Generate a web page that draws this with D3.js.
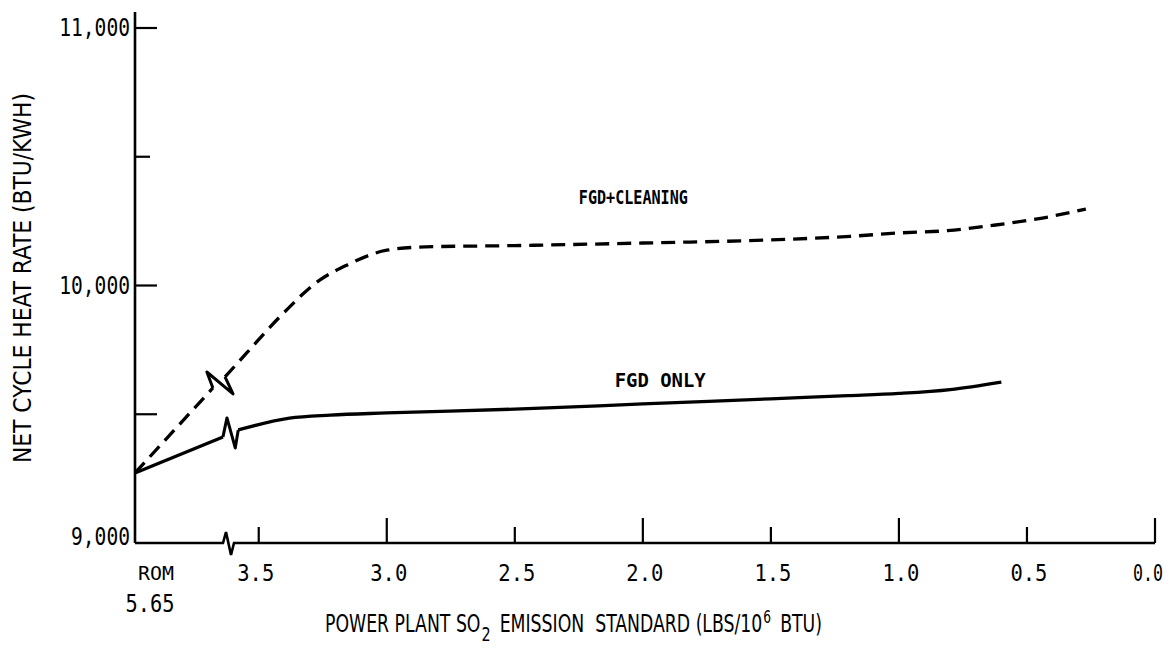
<!DOCTYPE html>
<html>
<head>
<meta charset="utf-8">
<script src="https://cdn.jsdelivr.net/npm/d3@7"></script>
<style>
  html, body { margin: 0; padding: 0; background: #fff; }
  svg { display: block; }
</style>
</head>
<body>
<svg id="chart" width="1172" height="664"></svg>
<script>
// ---- data -------------------------------------------------------------
// x: SO2 emission standard (lbs / 10^6 Btu); ROM coal sits at 5.65
const romValue = 5.65;
const axisBreakValue = 3.62;
const xTickValues = [3.5, 3.0, 2.5, 2.0, 1.5, 1.0, 0.5, 0.0];
const xTickLabels = ["3.5", "3.0", "2.5", "2.0", "1.5", "1.0", "0.5", "0.0"];
const yTickValues = [9000, 9500, 10000, 10500, 11000];
const yTickLabels = ["9,000", "", "10,000", "", "11,000"];

// FGD only: segment before the scale break, then after it
const fgdOnlyBefore = [[5.65, 9272], [3.73, 9412]];
const fgdOnlyAfter = [
  [3.58, 9439], [3.38, 9485], [3.22, 9497], [3.0, 9505], [2.5, 9520],
  [2.0, 9540], [1.5, 9560], [1.2, 9572], [1.0, 9581], [0.8, 9596],
  [0.6, 9625]
];

// FGD + coal cleaning
const fgdCleanBefore = [[5.65, 9272], [3.95, 9602]];
const fgdCleanAfter = [
  [3.685, 9645], [3.547, 9738], [3.418, 9878], [3.262, 10021], [3.156, 10079],
  [3.0, 10137], [2.85, 10150], [2.5, 10155], [2.0, 10165], [1.5, 10177],
  [1.19, 10191], [1.0, 10204], [0.81, 10213], [0.63, 10234], [0.44, 10262],
  [0.27, 10297]
];

const seriesNames = ["FGD+CLEANING", "FGD ONLY"];

// x-axis title pieces: text, size, baseline offset
const xTitleParts = [
  ["POWER PLANT SO", 24, 0],
  ["2", 20, 9],
  ["EMISSION  STANDARD (LBS/10", 24, 0],
  ["6", 17, -9],
  ["BTU)", 24, 0]
];

// ---- layout -----------------------------------------------------------
const svg = d3.select("#chart");
const ink = "#000";
const monoFont = "'DejaVu Sans Mono', 'Liberation Mono', monospace";
const condFont = "'DejaVu Sans Condensed', 'Liberation Sans Narrow', sans-serif";

// broken x scale: compressed between ROM and the break, linear after it
const x = d3.scaleLinear()
  .domain([romValue, axisBreakValue, 0])
  .range([135, 228, 1155]);
const y = d3.scaleLinear().domain([9000, 11000]).range([543, 28]);

const g = svg.append("g");

// ---- axes -------------------------------------------------------------
// y axis line
g.append("line")
  .attr("x1", x(romValue)).attr("x2", x(romValue))
  .attr("y1", y(11000) - 16).attr("y2", y(9000))
  .attr("stroke", ink).attr("stroke-width", 2.6);

// y ticks point into the plot
yTickValues.forEach((v, i) => {
  if (v !== 9000) {
    const len = v === 10500 ? 15 : 22;
    g.append("line")
      .attr("x1", x(romValue)).attr("x2", x(romValue) + len)
      .attr("y1", y(v)).attr("y2", y(v))
      .attr("stroke", ink).attr("stroke-width", 2.2);
  }
  const lab = yTickLabels[i];
  if (lab) {
    g.append("text")
      .attr("x", x(romValue) - 5)
      .attr("y", y(v) + (v === 9000 ? 2 : 8))
      .attr("text-anchor", "end")
      .attr("font-family", monoFont)
      .attr("font-size", 24)
      .attr("textLength", lab.length * 11.8)
      .attr("lengthAdjust", "spacingAndGlyphs")
      .attr("fill", ink)
      .text(lab);
  }
});

// x axis with a break glyph just left of 3.5
const xb = x(axisBreakValue);
const axisY = y(9000);
const axisPath = d3.path();
axisPath.moveTo(x(romValue), axisY);
axisPath.lineTo(xb - 5, axisY);
axisPath.lineTo(xb - 2, axisY - 11);
axisPath.lineTo(xb + 3, axisY + 12);
axisPath.lineTo(xb + 6, axisY);
axisPath.lineTo(x(0), axisY);
g.append("path").attr("d", axisPath.toString())
  .attr("fill", "none").attr("stroke", ink)
  .attr("stroke-width", 2.6).attr("stroke-linejoin", "miter");

// x ticks point up; whole numbers are longer
xTickValues.forEach((v, i) => {
  const len = Number.isInteger(v) ? 25 : 16;
  g.append("line")
    .attr("x1", x(v)).attr("x2", x(v))
    .attr("y1", axisY).attr("y2", axisY - len)
    .attr("stroke", ink).attr("stroke-width", 2.2);
  const lab = xTickLabels[i];
  const last = i === xTickValues.length - 1;
  g.append("text")
    .attr("x", x(v) + (i === 0 ? -3 : last ? -7 : 2))
    .attr("y", axisY + 38)
    .attr("text-anchor", "middle")
    .attr("font-family", monoFont)
    .attr("font-size", 23)
    .attr("textLength", last ? 30 : 37)
    .attr("lengthAdjust", "spacingAndGlyphs")
    .attr("fill", ink)
    .text(lab);
});

// ROM label under the origin
g.append("text")
  .attr("x", x(romValue) + 21).attr("y", axisY + 37)
  .attr("text-anchor", "middle")
  .attr("font-family", monoFont).attr("font-size", 20)
  .attr("textLength", 36).attr("lengthAdjust", "spacingAndGlyphs")
  .attr("fill", ink).text("ROM");
g.append("text")
  .attr("x", x(romValue) + 15).attr("y", axisY + 69)
  .attr("text-anchor", "middle")
  .attr("font-family", monoFont).attr("font-size", 24)
  .attr("textLength", 49).attr("lengthAdjust", "spacingAndGlyphs")
  .attr("fill", ink).text(romValue.toFixed(2));

// ---- axis titles ------------------------------------------------------
g.append("text")
  .attr("transform", "translate(31,278) rotate(-90)")
  .attr("text-anchor", "middle")
  .attr("font-family", condFont).attr("font-size", 25)
  .attr("textLength", 370).attr("lengthAdjust", "spacingAndGlyphs")
  .attr("fill", ink)
  .text("NET CYCLE HEAT RATE (BTU/KWH)");

// x title laid out piece by piece so sub/superscripts sit beside the words
(function () {
  const left = 325, right = 822, base = 632;
  const gapAfter = [1, 9, 1, 9, 0];
  const nodes = xTitleParts.map(([t, size, dy]) =>
    g.append("text")
      .attr("y", base + dy)
      .attr("font-family", condFont).attr("font-size", size)
      .attr("fill", ink)
      .style("white-space", "pre")
      .text(t));
  const widths = nodes.map(n => n.node().getComputedTextLength());
  const gaps = d3.sum(gapAfter);
  const k = (right - left - gaps) / d3.sum(widths);
  let cx = left;
  nodes.forEach((n, i) => {
    const w = widths[i] * k;
    n.attr("x", cx).attr("textLength", w).attr("lengthAdjust", "spacingAndGlyphs");
    cx += w + gapAfter[i];
  });
})();

// ---- curves -----------------------------------------------------------
const line = d3.line()
  .x(d => x(d[0]))
  .y(d => y(d[1]))
  .curve(d3.curveMonotoneX);

function drawSeries(before, after, dash, zigA, zigB) {
  const s = g.append("g")
    .attr("fill", "none").attr("stroke", ink)
    .attr("stroke-width", 3.3).attr("stroke-linejoin", "round");
  s.append("path").attr("d", line(before)).attr("stroke-dasharray", dash);
  s.append("path").attr("d", line(after)).attr("stroke-dasharray", dash);
  // break glyph joining the two segments
  const p0 = [x(before[before.length - 1][0]), y(before[before.length - 1][1])];
  const p1 = [x(after[0][0]), y(after[0][1])];
  const zz = d3.path();
  zz.moveTo(p0[0], p0[1]);
  zz.lineTo(p0[0] + zigA[0], p0[1] + zigA[1]);
  zz.lineTo(p1[0] + zigB[0], p1[1] + zigB[1]);
  zz.lineTo(p1[0], p1[1]);
  s.append("path").attr("d", zz.toString()).attr("stroke-width", 3);
}

drawSeries(fgdCleanBefore, fgdCleanAfter, "14,8", [-6, -16], [8, 17]);
drawSeries(fgdOnlyBefore, fgdOnlyAfter, null, [4, -19], [-3, 18]);

// ---- curve labels -----------------------------------------------------
const labelPos = [[2.25, 10315], [2.11, 9604]];
seriesNames.forEach((name, i) => {
  g.append("text")
    .attr("x", x(labelPos[i][0])).attr("y", y(labelPos[i][1]))
    .attr("font-family", monoFont).attr("font-size", 19)
    .attr("font-weight", "bold")
    .attr("textLength", i === 0 ? 109 : 91)
    .attr("lengthAdjust", "spacingAndGlyphs")
    .attr("fill", ink).text(name);
});
</script>
</body>
</html>
